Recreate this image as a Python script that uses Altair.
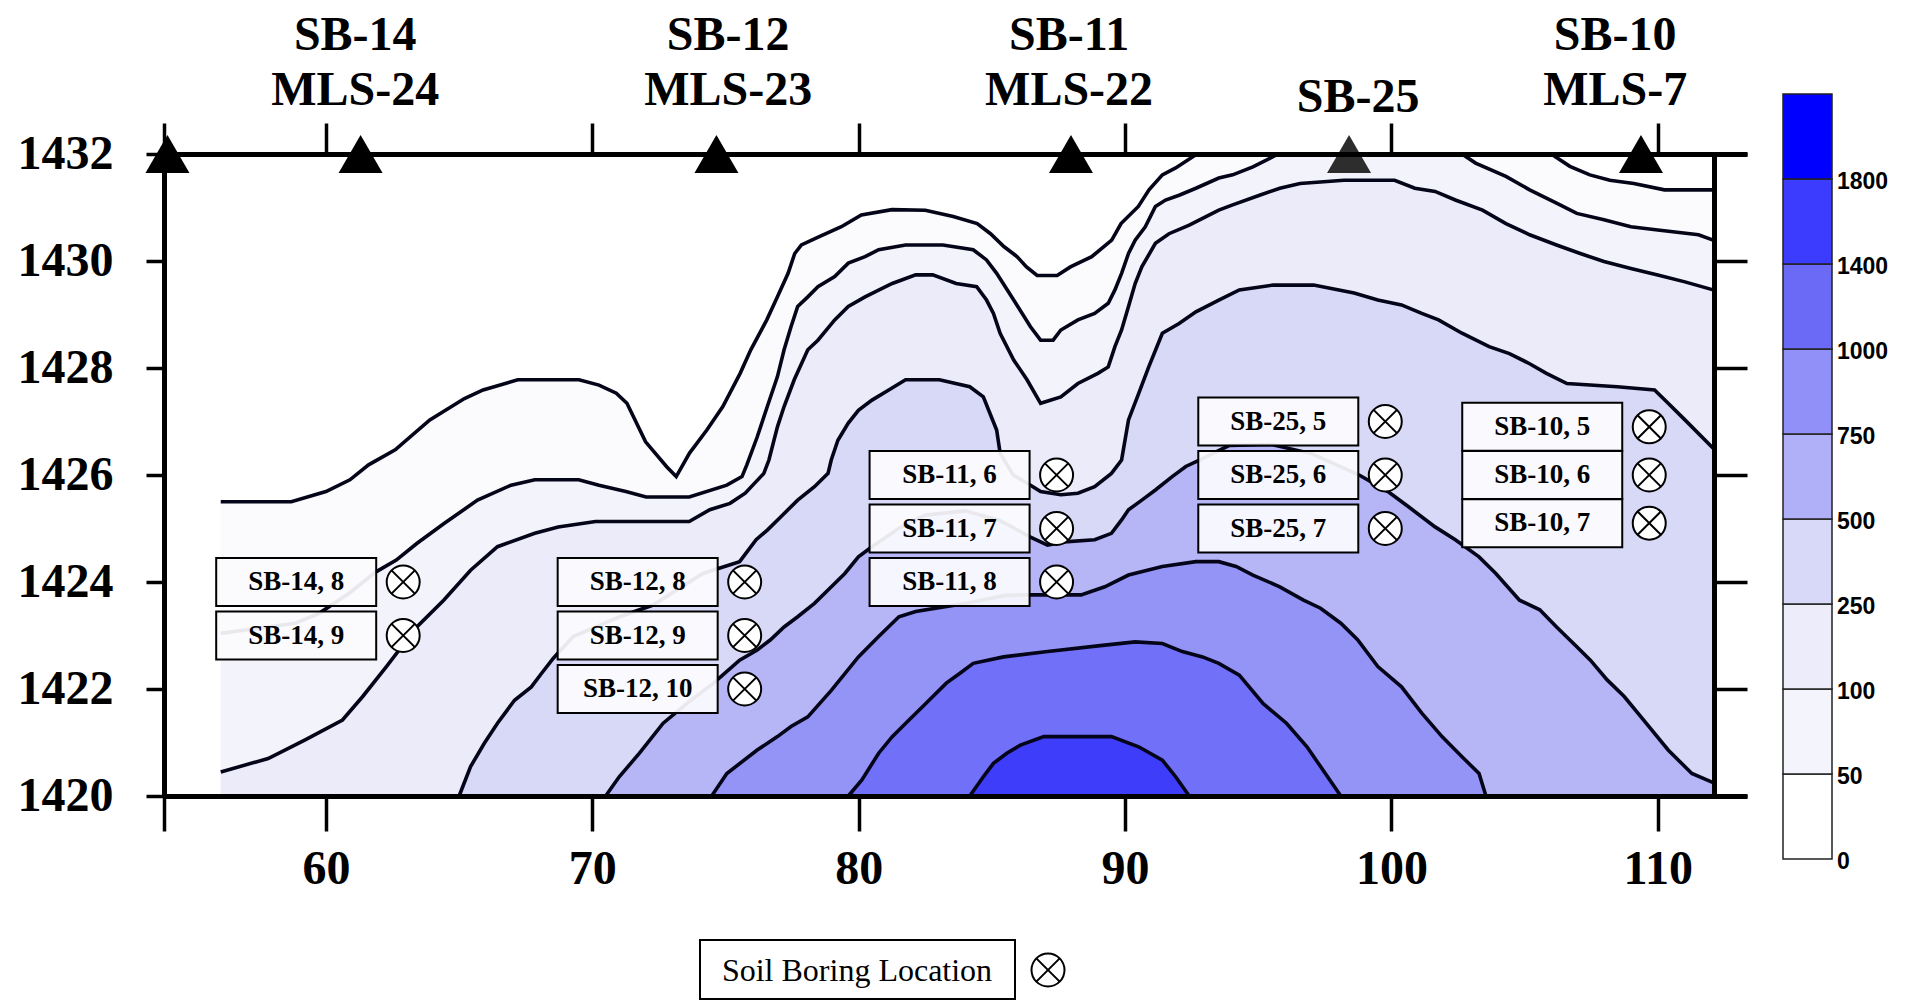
import altair as alt
import pandas as pd

# ---------------------------------------------------------------
# Contour lines: distance along section (x) and elevation (y)
# ---------------------------------------------------------------
levels = [50, 100, 250, 500, 750, 1000, 1400, 1800]

c50_x = [56.05, 58.7, 60.0, 60.9, 61.6, 62.6, 63.9, 65.2, 65.9, 67.2, 69.5, 70.25, 70.9, 71.3,
         72.0, 72.8, 73.15, 73.65, 74.3, 74.9, 75.55, 75.95, 76.55, 76.95, 77.35, 77.6, 77.85,
         78.5, 79.35, 80.1, 81.25, 82.5, 83.55, 84.45, 84.95, 85.45, 85.95, 86.3, 86.7, 87.45,
         87.95, 88.75, 89.5, 89.85, 90.5, 90.9, 91.4, 91.9, 92.7, 106.0, 106.7, 107.45, 108.2,
         109.1, 110.25, 112.08]
c50_y = [1425.50, 1425.50, 1425.69, 1425.91, 1426.19, 1426.47, 1427.03, 1427.43, 1427.59, 1427.78,
         1427.78, 1427.68, 1427.53, 1427.34, 1426.62, 1426.15, 1425.97, 1426.41, 1426.84, 1427.28,
         1427.90, 1428.34, 1428.90, 1429.33, 1429.77, 1430.14, 1430.30, 1430.45, 1430.64, 1430.86,
         1430.96, 1430.95, 1430.83, 1430.70, 1430.51, 1430.27, 1430.08, 1429.89, 1429.73, 1429.73,
         1429.89, 1430.08, 1430.39, 1430.70, 1431.02, 1431.33, 1431.61, 1431.74, 1432.00, 1432.00,
         1431.77, 1431.61, 1431.51, 1431.45, 1431.33, 1431.33]

c100_x = [56.05, 58.84, 59.73, 60.87, 61.88, 62.64, 63.41, 64.42, 65.69, 66.95, 67.84, 69.49, 70.25,
          71.26, 72.02, 73.64, 75.05, 75.62, 75.8, 76.19, 76.57, 76.95, 77.2, 77.46, 77.71, 78.09,
          78.47, 79.1, 79.61, 80.24, 80.75, 81.76, 83.16, 84.3, 84.8, 85.18, 85.82, 86.45, 86.83,
          87.3, 87.59, 88.23, 88.86, 89.37, 89.62, 89.87, 90.13, 90.38, 90.76, 91.14, 91.52, 92.03,
          92.66, 93.52, 94.04, 94.8, 95.75, 102.65, 103.16, 104.3, 105.19, 106.2, 106.96, 107.98,
          108.99, 110.0, 111.53, 112.08]
c100_y = [1423.04, 1423.23, 1423.41, 1423.79, 1424.19, 1424.41, 1424.72, 1425.09, 1425.53, 1425.81,
          1425.91, 1425.91, 1425.81, 1425.69, 1425.59, 1425.59, 1425.81, 1425.97, 1426.19, 1426.71,
          1427.28, 1427.84, 1428.34, 1428.77, 1429.15, 1429.33, 1429.52, 1429.71, 1429.96, 1430.08,
          1430.21, 1430.30, 1430.30, 1430.21, 1430.02, 1429.77, 1429.27, 1428.77, 1428.52, 1428.52,
          1428.71, 1428.90, 1429.02, 1429.21, 1429.46, 1429.77, 1430.14, 1430.39, 1430.64, 1431.02,
          1431.14, 1431.23, 1431.36, 1431.55, 1431.61, 1431.76, 1432.00, 1432.00, 1431.83, 1431.58,
          1431.33, 1431.08, 1430.89, 1430.77, 1430.64, 1430.58, 1430.49, 1430.39]

c250_x = [56.05, 57.83, 59.22, 60.62, 61.38, 62.27, 63.41, 64.42, 65.43, 66.44, 67.84, 68.72, 70.12,
          73.64, 74.41, 75.17, 75.74, 76.44, 76.63, 76.95, 77.2, 77.58, 78.09, 78.47, 79.1, 79.61,
          80.24, 81.26, 82.14, 82.78, 83.66, 84.43, 84.8, 85.06, 85.31, 85.82, 86.32, 86.83, 87.59,
          88.23, 88.98, 89.37, 89.62, 89.87, 90.13, 90.38, 90.63, 91.14, 91.65, 92.41, 93.04, 93.52,
          94.04, 95.05, 95.81, 96.57, 98.22, 100.12, 100.88, 101.64, 102.4, 103.42, 104.3, 105.19,
          106.2, 107.09, 107.98, 108.99, 110.0, 111.02, 112.08]
c250_y = [1420.45, 1420.70, 1421.05, 1421.42, 1421.86, 1422.42, 1423.16, 1423.66, 1424.22, 1424.66,
          1424.91, 1425.03, 1425.13, 1425.13, 1425.35, 1425.47, 1425.66, 1426.03, 1426.28, 1426.90,
          1427.28, 1427.78, 1428.34, 1428.52, 1428.90, 1429.15, 1429.33, 1429.58, 1429.74, 1429.74,
          1429.58, 1429.52, 1429.27, 1429.02, 1428.65, 1428.15, 1427.78, 1427.34, 1427.46, 1427.71,
          1427.90, 1428.02, 1428.40, 1428.71, 1429.15, 1429.58, 1429.89, 1430.33, 1430.51, 1430.67,
          1430.83, 1430.95, 1431.05, 1431.23, 1431.36, 1431.45, 1431.51, 1431.51, 1431.36, 1431.30,
          1431.14, 1430.95, 1430.70, 1430.49, 1430.30, 1430.14, 1429.99, 1429.86, 1429.74, 1429.61,
          1429.46]

c500_x = [65.0, 65.43, 65.94, 66.44, 67.08, 67.71, 68.09, 68.53, 69.28, 71.03, 72.28, 74.15, 75.53,
          76.15, 76.57, 77.08, 77.71, 78.34, 78.85, 78.97, 79.22, 79.61, 79.99, 80.5, 81.13, 81.76,
          83.03, 84.17, 84.68, 84.93, 85.18, 85.31, 85.8, 86.45, 86.83, 87.59, 88.23, 88.86, 89.49,
          89.87, 90.13, 90.51, 90.89, 91.4, 92.03, 92.66, 93.52, 94.29, 95.56, 97.08, 98.6, 99.49,
          100.38, 101.14, 101.77, 102.65, 103.67, 104.43, 105.19, 105.82, 106.59, 108.48, 109.88,
          110.39, 111.02, 112.08]
c500_y = [1420.00, 1420.55, 1420.98, 1421.36, 1421.79, 1422.04, 1422.29, 1422.57, 1422.98, 1423.35,
          1423.57, 1424.16, 1424.38, 1424.79, 1424.97, 1425.22, 1425.53, 1425.78, 1426.03, 1426.28,
          1426.65, 1426.97, 1427.21, 1427.40, 1427.59, 1427.78, 1427.78, 1427.65, 1427.46, 1427.15,
          1426.84, 1426.41, 1426.00, 1425.81, 1425.69, 1425.63, 1425.66, 1425.78, 1426.03, 1426.28,
          1427.03, 1427.52, 1428.02, 1428.65, 1428.83, 1429.05, 1429.27, 1429.46, 1429.55, 1429.55,
          1429.40, 1429.27, 1429.18, 1429.02, 1428.90, 1428.65, 1428.40, 1428.27, 1428.08, 1427.90,
          1427.71, 1427.65, 1427.59, 1427.34, 1427.03, 1426.50]

c750_x = [70.5, 71.01, 71.77, 72.66, 73.6, 74.53, 75.53, 76.19, 76.69, 77.2, 77.71, 78.34, 78.85,
          79.48, 79.99, 80.5, 81.5, 82.5, 84.0, 85.3, 86.45, 87.09, 87.72, 88.86, 89.49, 89.87,
          90.13, 90.63, 91.14, 91.77, 92.28, 92.79, 93.9, 95.5, 97.0, 98.79, 99.87, 100.63, 101.64,
          102.4, 103.29, 103.92, 104.81, 105.57, 106.2, 106.96, 107.47, 108.1, 108.74, 109.37,
          110.39, 111.28, 112.08]
c750_y = [1420.00, 1420.36, 1420.80, 1421.36, 1421.75, 1422.10, 1422.54, 1422.73, 1422.92, 1423.16,
          1423.35, 1423.60, 1423.85, 1424.16, 1424.47, 1424.66, 1425.00, 1425.25, 1425.33, 1425.15,
          1424.84, 1424.69, 1424.75, 1424.79, 1424.91, 1425.16, 1425.35, 1425.53, 1425.72, 1425.97,
          1426.16, 1426.28, 1426.55, 1426.57, 1426.40, 1426.00, 1425.69, 1425.41, 1425.03, 1424.79,
          1424.47, 1424.16, 1423.66, 1423.48, 1423.16, 1422.79, 1422.54, 1422.17, 1421.86, 1421.48,
          1420.86, 1420.42, 1420.25]

c1000_x = [74.48, 75.05, 76.19, 76.95, 77.46, 78.09, 78.98, 79.99, 80.75, 81.51, 82.14, 84.0, 85.5,
           86.45, 88.35, 89.24, 90.13, 91.4, 92.66, 93.52, 94.17, 94.8, 95.81, 96.7, 97.34, 98.1,
           98.73, 99.49, 100.38, 101.14, 101.9, 102.66, 103.29, 103.55]
c1000_y = [1420.00, 1420.42, 1420.86, 1421.11, 1421.30, 1421.48, 1421.98, 1422.60, 1422.98, 1423.35,
           1423.45, 1423.60, 1423.75, 1423.76, 1423.76, 1423.91, 1424.13, 1424.29, 1424.38, 1424.38,
           1424.29, 1424.13, 1423.91, 1423.66, 1423.51, 1423.23, 1422.92, 1422.42, 1422.04, 1421.55,
           1421.11, 1420.73, 1420.42, 1420.00]

c1400_x = [79.61, 80.12, 80.75, 81.26, 81.89, 82.52, 83.29, 83.79, 84.3, 85.44, 87.09, 89.24, 90.38,
           91.4, 92.15, 92.91, 93.52, 94.29, 95.18, 96.06, 96.83, 97.34, 98.1]
c1400_y = [1420.00, 1420.30, 1420.80, 1421.11, 1421.42, 1421.73, 1422.11, 1422.29, 1422.48, 1422.60,
           1422.70, 1422.82, 1422.88, 1422.85, 1422.70, 1422.60, 1422.48, 1422.26, 1421.73, 1421.36,
           1420.92, 1420.55, 1420.00]

c1800_x = [84.17, 84.68, 85.06, 85.56, 86.07, 86.95, 89.49, 90.51, 91.4, 91.9, 92.41]
c1800_y = [1420.00, 1420.36, 1420.61, 1420.80, 1420.95, 1421.11, 1421.11, 1420.92, 1420.67, 1420.36,
           1420.00]

contour_x = [c50_x, c100_x, c250_x, c500_x, c750_x, c1000_x, c1400_x, c1800_x]
contour_y = [c50_y, c100_y, c250_y, c500_y, c750_y, c1000_y, c1400_y, c1800_y]
# fill used above each contour level
band_fill = ["#fbfbfe", "#f3f3fc", "#ebebf9", "#d8d8f7", "#b6b6f7", "#9494f7", "#7070f8", "#3d3dfa"]

# colour bar (bottom band first)
cbar_labels = ["0", "50", "100", "250", "500", "750", "1000", "1400", "1800"]
cbar_colors = ["#ffffff", "#f4f4fc", "#ececfa", "#d8d8f8", "#b0b0f8", "#9090f8", "#6a6af6",
               "#3c3cff", "#0000ff"]

# borings / multilevel samplers along the section
station_top = ["SB-14", "SB-12", "SB-11", "SB-10"]
station_bottom = ["MLS-24", "MLS-23", "MLS-22", "MLS-7"]
station_label_dist = [61.1, 75.1, 87.9, 108.4]
single_label = ["SB-25"]
single_label_dist = [98.75]
marker_dist = [54.05, 61.3, 74.66, 87.97, 98.41, 109.37]
marker_fill = ["#000000", "#000000", "#000000", "#000000", "#2d2d2d", "#000000"]

# soil samples: boring, sample number, position, elevation
sample_boring = ["SB-14", "SB-14", "SB-12", "SB-12", "SB-12", "SB-11", "SB-11", "SB-11",
                 "SB-25", "SB-25", "SB-25", "SB-10", "SB-10", "SB-10"]
sample_no = [8, 9, 8, 9, 10, 6, 7, 8, 5, 6, 7, 5, 6, 7]
sample_dist = [62.9, 62.9, 75.72, 75.72, 75.72, 87.43, 87.43, 87.43, 99.77, 99.77, 99.77,
               109.68, 109.68, 109.68]
sample_elev = [1424, 1423, 1424, 1423, 1422, 1426, 1425, 1424, 1427, 1426, 1425,
               1426.9, 1426.0, 1425.1]

legend_text = ["Soil Boring Location"]

x_ticks = [53.92, 60, 70, 80, 90, 100, 110]
y_ticks = [1420, 1422, 1424, 1426, 1428, 1430, 1432]

# ---------------------------------------------------------------
rows = []
for lev, cx, cy in zip(levels, contour_x, contour_y):
    for i, (a, b) in enumerate(zip(cx, cy)):
        rows.append({"level": lev, "i": i, "dist": a, "elev": b})
contours = pd.DataFrame(rows)

samples = pd.DataFrame({
    "dist": sample_dist,
    "elev": sample_elev,
    "label": [f"{b}, {n}" for b, n in zip(sample_boring, sample_no)],
})
stations = pd.DataFrame({"dist": station_label_dist, "top": station_top, "bottom": station_bottom})
single = pd.DataFrame({"dist": single_label_dist, "name": single_label})
markers = pd.DataFrame({"dist": marker_dist, "fill": marker_fill})
cbar = pd.DataFrame({"lo": list(range(9)), "hi": list(range(1, 10)), "col": cbar_colors})
cbar_ticks = pd.DataFrame({"pos": list(range(9)), "lab": cbar_labels})
legend = pd.DataFrame({"t": legend_text})

SERIF = "Liberation Serif"
SANS = "Liberation Sans"

xs = alt.Scale(domain=[53.92, 113.35], nice=False, zero=False)
ys = alt.Scale(domain=[1420, 1432], nice=False, zero=False)
cb_scale = alt.Scale(domain=[0, 9], range=[705, -60], nice=False, zero=False)

axis_style = dict(
    title=None, grid=False, zindex=1, domainColor="black", tickColor="black",
    domainWidth=5, tickWidth=3.5, labelColor="black", labelFont=SERIF,
    labelFontWeight="bold", labelFontSize=48, labelFlush=False, labelOverlap=False,
    labelBound=False, format="d",
)
bottom_axis = alt.Axis(orient="bottom", values=x_ticks, tickSize=35, labelPadding=14,
                       labelExpr="datum.value < 55 ? '' : datum.label", **axis_style)
top_axis = alt.Axis(orient="top", values=x_ticks, tickSize=31, labels=False, **axis_style)
left_axis = alt.Axis(orient="left", values=y_ticks, tickSize=18, labelPadding=33, **axis_style)
right_axis = alt.Axis(orient="right", values=y_ticks, tickSize=33, offset=-33, labels=False,
                      **axis_style)

layers = []

# filled concentration bands, lowest level first
for k, lev in enumerate(levels):
    layers.append(
        alt.Chart(contours)
        .transform_filter(alt.datum.level == lev)
        .mark_area(color=band_fill[k], interpolate="linear", opacity=1)
        .encode(
            x=alt.X("dist:Q", scale=xs, axis=bottom_axis if k == 0 else None),
            y=alt.Y("elev:Q", scale=ys, axis=left_axis if k == 0 else None),
            y2=alt.datum(1420),
        )
    )

# contour lines
layers.append(
    alt.Chart(contours)
    .mark_line(color="#05051a", strokeWidth=3.6, interpolate="linear")
    .encode(
        x=alt.X("dist:Q", scale=xs, axis=top_axis),
        y=alt.Y("elev:Q", scale=ys, axis=right_axis),
        detail="level:N",
        order="i:Q",
    )
)

# boring markers on the ground surface
layers.append(
    alt.Chart(markers)
    .mark_point(shape="triangle-up", size=1936, filled=True, opacity=1)
    .encode(
        x=alt.X("dist:Q", scale=xs, axis=None),
        y=alt.value(0),
        fill=alt.Fill("fill:N", scale=None),
    )
)

# station names above the section
title_font = dict(font=SERIF, fontWeight="bold", fontSize=48, align="center",
                  baseline="alphabetic", color="black")
layers.append(
    alt.Chart(stations).mark_text(**title_font)
    .encode(x=alt.X("dist:Q", scale=xs, axis=None), y=alt.value(-104), text="top:N")
)
layers.append(
    alt.Chart(stations).mark_text(**title_font)
    .encode(x=alt.X("dist:Q", scale=xs, axis=None), y=alt.value(-49), text="bottom:N")
)
layers.append(
    alt.Chart(single).mark_text(**title_font)
    .encode(x=alt.X("dist:Q", scale=xs, axis=None), y=alt.value(-42), text="name:N")
)

# sample label boxes
layers.append(
    alt.Chart(samples)
    .mark_rect(xOffset=-187, x2Offset=-27, yOffset=-24, y2Offset=24,
               fill="#fbfbfe", fillOpacity=0.93, stroke="black", strokeWidth=2)
    .encode(
        x=alt.X("dist:Q", scale=xs, axis=None), x2="dist:Q",
        y=alt.Y("elev:Q", scale=ys, axis=None), y2="elev:Q",
    )
)
layers.append(
    alt.Chart(samples)
    .mark_text(dx=-107, font=SERIF, fontWeight="bold", fontSize=27, align="center",
               baseline="middle", color="black")
    .encode(
        x=alt.X("dist:Q", scale=xs, axis=None),
        y=alt.Y("elev:Q", scale=ys, axis=None),
        text="label:N",
    )
)

# soil boring location symbols
xcross = "M-0.707,-0.707L0.707,0.707M-0.707,0.707L0.707,-0.707"
layers.append(
    alt.Chart(samples)
    .mark_point(shape="circle", size=1089, filled=True, fill="white", stroke="black",
                strokeWidth=2, opacity=1)
    .encode(x=alt.X("dist:Q", scale=xs, axis=None), y=alt.Y("elev:Q", scale=ys, axis=None))
)
layers.append(
    alt.Chart(samples)
    .mark_point(shape=xcross, size=1089, filled=False, stroke="black", strokeWidth=2, opacity=1)
    .encode(x=alt.X("dist:Q", scale=xs, axis=None), y=alt.Y("elev:Q", scale=ys, axis=None))
)

# colour bar
layers.append(
    alt.Chart(cbar)
    .mark_rect(stroke="#222222", strokeWidth=1.5)
    .encode(
        x=alt.value(1619), x2=alt.value(1668),
        y=alt.Y("lo:Q", scale=cb_scale, axis=None), y2="hi:Q",
        fill=alt.Fill("col:N", scale=None),
    )
)
layers.append(
    alt.Chart(cbar_ticks)
    .mark_text(align="left", baseline="middle", dy=3, font=SANS, fontWeight="bold",
               fontSize=23, color="black")
    .encode(x=alt.value(1673), y=alt.Y("pos:Q", scale=cb_scale, axis=None), text="lab:N")
)

# symbol key below the section
layers.append(
    alt.Chart(legend)
    .mark_rect(fill="white", stroke="black", strokeWidth=2)
    .encode(x=alt.value(536), x2=alt.value(851), y=alt.value(786), y2=alt.value(845))
)
layers.append(
    alt.Chart(legend)
    .mark_text(font=SERIF, fontSize=32, align="center", baseline="alphabetic", color="black")
    .encode(x=alt.value(693), y=alt.value(827), text="t:N")
)
layers.append(
    alt.Chart(legend)
    .mark_point(shape="circle", size=1089, filled=True, fill="white", stroke="black",
                strokeWidth=2, opacity=1)
    .encode(x=alt.value(884), y=alt.value(816))
)
layers.append(
    alt.Chart(legend)
    .mark_point(shape=xcross, size=1089, filled=False, stroke="black", strokeWidth=2, opacity=1)
    .encode(x=alt.value(884), y=alt.value(816))
)

chart = (
    alt.layer(*layers)
    .resolve_scale(y="independent")
    .resolve_axis(x="independent", y="independent")
    .properties(
        width=1583,
        height=642,
        autosize=alt.AutoSizeParams(type="none"),
        padding={"left": 164, "top": 154, "right": 159, "bottom": 204},
        background="white",
    )
    .configure_view(strokeWidth=0)
)

chart.save("out.html", embed_options={"renderer": "svg", "actions": False})
